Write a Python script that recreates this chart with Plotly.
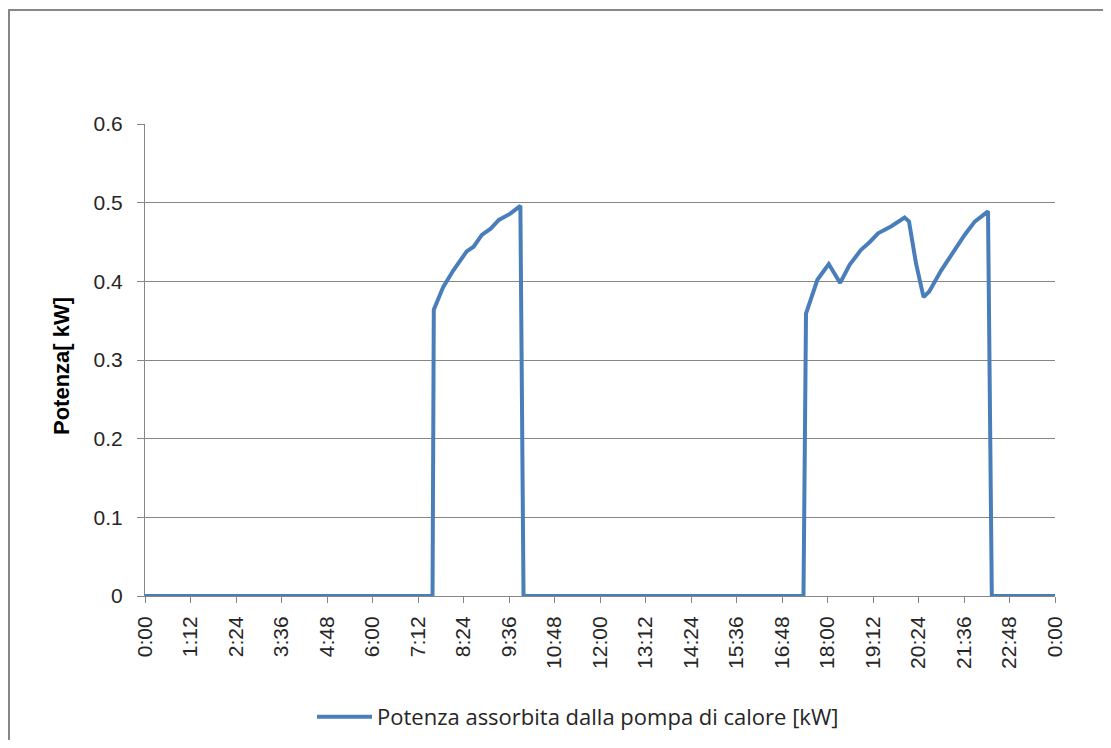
import plotly.graph_objects as go

# Data: time of day (HH:MM) and absorbed power [kW]
times = ["0:00", "7:35", "7:37", "7:52", "8:08", "8:29", "8:40", "8:53", "9:07", "9:20",
         "9:38", "9:54", "9:59", "17:22", "17:26", "17:34", "17:44", "18:02", "18:11",
         "18:20", "18:35", "18:53", "19:07", "19:20", "19:41", "20:02", "20:09", "20:20",
         "20:32", "20:41", "21:00", "21:21", "21:37", "21:53", "22:14", "22:20", "24:00"]
power = [0, 0, 0.364, 0.393, 0.414, 0.438, 0.444, 0.459, 0.467, 0.478,
         0.486, 0.496, 0, 0, 0.359, 0.380, 0.402, 0.422, 0.410,
         0.398, 0.421, 0.440, 0.450, 0.461, 0.470, 0.481, 0.476, 0.423,
         0.380, 0.387, 0.414, 0.440, 0.459, 0.476, 0.489, 0, 0]

tick_labels = ["0:00", "1:12", "2:24", "3:36", "4:48", "6:00", "7:12", "8:24", "9:36",
               "10:48", "12:00", "13:12", "14:24", "15:36", "16:48", "18:00", "19:12",
               "20:24", "21:36", "22:48", "0:00"]
y_ticks = [0, 0.1, 0.2, 0.3, 0.4, 0.5, 0.6]
y_tick_text = ["0", "0.1", "0.2", "0.3", "0.4", "0.5", "0.6"]
series_name = "Potenza assorbita dalla pompa di calore [kW]"
y_title = "Potenza[ kW]"


def to_minutes(t):
    h, m = t.split(":")
    return int(h) * 60 + int(m)


x_min = [to_minutes(t) for t in times]
tick_vals = [i * 72 for i in range(len(tick_labels))]

fig = go.Figure()
fig.add_trace(go.Scatter(
    x=x_min, y=power, mode="lines", name=series_name,
    line=dict(color="#4A7EBB", width=4),
))

OFF = 8  # page body margin
W, H = 1095, 732
PX0, PX1, PY0, PY1 = 145, 1055, 124, 596  # plot area in page pixels
L, T = PX0 - OFF, PY0 - OFF
R, B = W + OFF - PX1, H + OFF - PY1
pw, ph = PX1 - PX0, PY1 - PY0


def px(x):
    return (x - PX0) / pw


def py(y):
    return (PY1 - y) / ph


TXT = "#262626"

fig.update_layout(
    width=W, height=H,
    margin=dict(l=L, r=R, t=T, b=B),
    paper_bgcolor="white", plot_bgcolor="white",
    font=dict(family="Liberation Sans, Arial, sans-serif", color=TXT),
    showlegend=True,
    legend=dict(orientation="h", xref="paper", x=px(578), xanchor="center",
                yref="container", y=1 - (717 - OFF) / H, yanchor="middle",
                font=dict(family="Open Sans, Liberation Sans, sans-serif", size=22, color=TXT),
                itemwidth=55),
    xaxis=dict(range=[0, 1440], tickmode="array", tickvals=tick_vals, ticktext=tick_labels,
               tickangle=-90, ticks="outside", ticklen=6, tickcolor="#868686",
               ticklabelstandoff=5,
               showline=True, linecolor="#868686", linewidth=1, showgrid=False, zeroline=False,
               tickfont=dict(size=21, color=TXT)),
    yaxis=dict(range=[0, 0.6], tickmode="array", tickvals=y_ticks, ticktext=y_tick_text,
               ticks="outside", ticklen=7, tickcolor="#868686",
               ticklabelstandoff=10,
               showline=True, linecolor="#868686", linewidth=1,
               showgrid=True, gridcolor="#868686", gridwidth=1, zeroline=False,
               tickfont=dict(size=21, color=TXT)),
    annotations=[dict(text="<b>" + y_title + "</b>", x=px(61), y=py(366), xref="paper", yref="paper",
                      textangle=-90, showarrow=False, xanchor="center", yanchor="middle",
                      font=dict(size=22, color="#000000"))],
    shapes=[dict(type="rect", xref="paper", yref="paper",
                 x0=px(9), x1=px(1140), y0=py(780), y1=py(10),
                 line=dict(color="#868686", width=2), layer="below")],
)

fig.write_html("out.html")
